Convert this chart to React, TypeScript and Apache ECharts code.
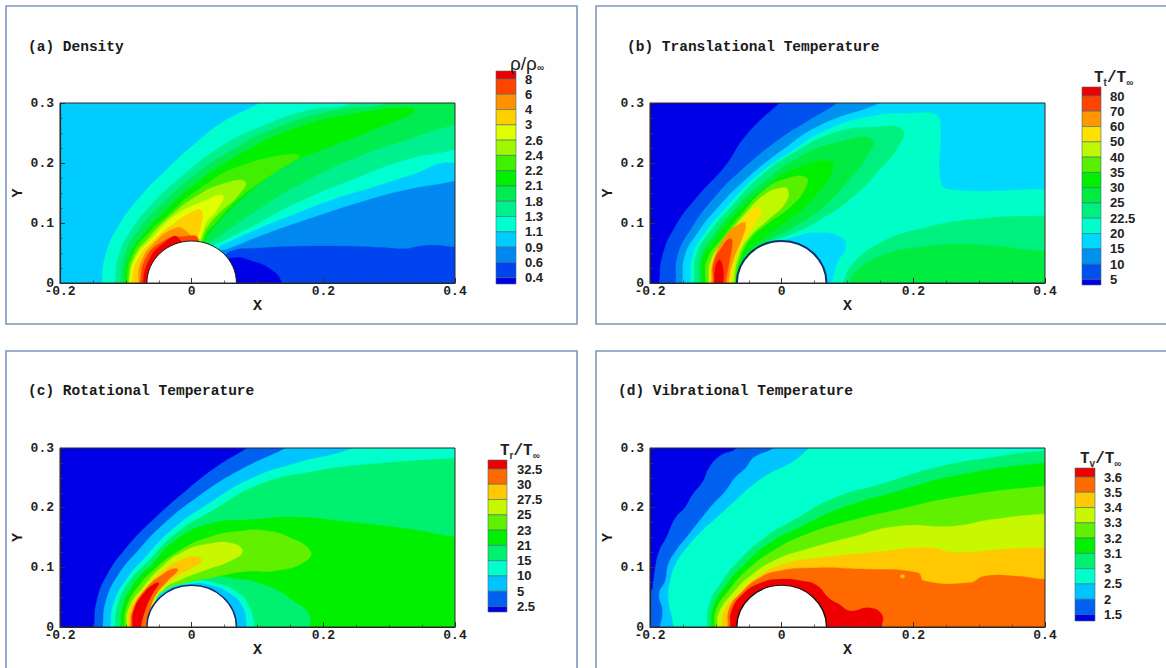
import React, { useEffect, useRef } from "react";
import * as echarts from "echarts";

const bodyRadius = [0.068, 0.07];

const densityLabels = ["8", "6", "4", "3", "2.6", "2.4", "2.2", "2.1", "1.8", "1.3", "1.1", "0.9", "0.6", "0.4"];
const translationalLabels = ["80", "70", "60", "50", "40", "35", "30", "25", "22.5", "20", "15", "10", "5"];
const rotationalLabels = ["32.5", "30", "27.5", "25", "23", "21", "15", "10", "5", "2.5"];
const vibrationalLabels = ["3.6", "3.5", "3.4", "3.3", "3.2", "3.1", "3", "2.5", "2", "1.5"];

// colours of the cells, from the lowest cell to the highest
const densityColors = ["#0000e6", "#0044f0", "#0088f0", "#00ccff", "#00ffd0", "#00f090", "#00ec50", "#00f000", "#40f000", "#a0f800", "#e0ff00", "#ffd000", "#ff9000", "#ff4400", "#ee0000"];
const translationalColors = ["#0000e6", "#0050f0", "#0090f0", "#00d8ff", "#00ffc8", "#00f080", "#00ec40", "#00f000", "#58f000", "#c0f800", "#ffe000", "#ff9800", "#ff4400", "#ee0000"];
const rotationalColors = ["#0000e6", "#0060f0", "#00c4ff", "#00ffcc", "#00f070", "#00f000", "#60f000", "#c8f800", "#ffc800", "#ff6a00", "#ee0000"];
const vibrationalColors = ["#0000e6", "#0060f0", "#00c4ff", "#00ffcc", "#00f070", "#00f000", "#60f000", "#c8f800", "#ffc800", "#ff6a00", "#ee0000"];

type Band = [number, number[][]];

const densityBands: Band[] = [
  [4, [[-0.136, -0.02], [-0.136, 0], [-0.131, 0.045], [-0.111, 0.095], [-0.077, 0.145], [-0.037, 0.19], [0.008, 0.235], [0.047, 0.268], [0.104, 0.3], [0.15, 0.33], [0.5, 0.33], [0.5, 0.17], [0.4, 0.201], [0.33, 0.179], [0.273, 0.159], [0.216, 0.14], [0.16, 0.117], [0.104, 0.092], [0.059, 0.07], [0.039, 0.057], [0, 0]]],
  [5, [[-0.116, -0.02], [-0.116, 0], [-0.111, 0.045], [-0.094, 0.084], [-0.065, 0.126], [-0.02, 0.173], [0.047, 0.229], [0.104, 0.26], [0.177, 0.288], [0.245, 0.3], [0.28, 0.33], [0.5, 0.33], [0.5, 0.26], [0.4, 0.223], [0.33, 0.207], [0.245, 0.173], [0.16, 0.134], [0.093, 0.095], [0.047, 0.07], [0.03, 0.059], [0, 0]]],
  [6, [[-0.108, -0.02], [-0.108, 0], [-0.1, 0.05], [-0.08, 0.089], [-0.049, 0.128], [-0.003, 0.173], [0.059, 0.22], [0.132, 0.26], [0.217, 0.288], [0.296, 0.3], [0.32, 0.33], [0.5, 0.33], [0.5, 0.3], [0.4, 0.265], [0.33, 0.24], [0.245, 0.207], [0.16, 0.162], [0.093, 0.117], [0.042, 0.078], [0.025, 0.064], [0, 0]]],
  [7, [[-0.102, -0.02], [-0.102, 0], [-0.094, 0.045], [-0.071, 0.084], [-0.043, 0.117], [0.002, 0.162], [0.07, 0.212], [0.149, 0.254], [0.245, 0.282], [0.338, 0.289], [0.273, 0.254], [0.2, 0.223], [0.143, 0.196], [0.076, 0.14], [0.036, 0.095], [0.022, 0.073], [0, 0]]],
  [8, [[-0.099, -0.02], [-0.099, 0], [-0.091, 0.045], [-0.065, 0.084], [-0.037, 0.112], [0.008, 0.154], [0.076, 0.196], [0.163, 0.213], [0.126, 0.184], [0.076, 0.145], [0.036, 0.1], [0.019, 0.075], [0, 0]]],
  [9, [[-0.096, -0.02], [-0.096, 0], [-0.088, 0.042], [-0.063, 0.078], [-0.032, 0.112], [0.008, 0.145], [0.047, 0.165], [0.081, 0.169], [0.07, 0.145], [0.042, 0.117], [0.025, 0.095], [0.016, 0.075], [0, 0]]],
  [10, [[-0.095, -0.02], [-0.095, 0], [-0.085, 0.042], [-0.06, 0.075], [-0.026, 0.112], [0.014, 0.134], [0.047, 0.146], [0.039, 0.123], [0.022, 0.1], [0.015, 0.078], [0.01, 0.07], [0, 0]]],
  [11, [[-0.091, -0.02], [-0.091, 0], [-0.082, 0.039], [-0.054, 0.075], [-0.026, 0.1], [0.002, 0.119], [0.015, 0.12], [0.014, 0.095], [0.008, 0.07], [0, 0]]],
  [12, [[-0.081, -0.02], [-0.081, 0], [-0.077, 0.034], [-0.054, 0.07], [-0.023, 0.092], [-0.012, 0.089], [0, 0.072], [0, 0]]],
  [13, [[-0.078, -0.02], [-0.078, 0], [-0.07, 0.04], [-0.046, 0.068], [-0.015, 0.077], [0.01, 0.073], [0, 0]]],
  [14, [[-0.074, -0.02], [-0.074, 0], [-0.066, 0.035], [-0.045, 0.064], [-0.02, 0.075], [0, 0]]],
  [2, [[0.4, 0.17], [0.33, 0.156], [0.273, 0.14], [0.16, 0.1], [0.104, 0.078], [0.053, 0.056], [0.03, 0.05], [0, 0], [0.03, -0.02], [0.5, -0.02], [0.5, 0.2]]],
  [1, [[0.06, 0.053], [0.1, 0.058], [0.16, 0.061], [0.245, 0.061], [0.29, 0.059], [0.324, 0.057], [0.345, 0.061], [0.369, 0.063], [0.4, 0.06], [0.5, 0.06], [0.5, -0.02], [0.05, -0.02], [0.05, 0.04]]],
  [0, [[0.064, 0.042], [0.093, 0.036], [0.121, 0.022], [0.137, 0], [0.137, -0.02], [0.05, -0.02], [0.05, 0.03]]],
];

const translationalBands: Band[] = [
  [1, [[-0.19, -0.02], [-0.186, 0], [-0.181, 0.045], [-0.161, 0.095], [-0.127, 0.145], [-0.085, 0.196], [-0.054, 0.246], [-0.003, 0.3], [0.03, 0.33], [0.5, 0.33], [0.5, -0.02]]],
  [2, [[-0.165, -0.02], [-0.161, 0], [-0.158, 0.045], [-0.138, 0.089], [-0.104, 0.14], [-0.059, 0.19], [-0.003, 0.24], [0.037, 0.268], [0.085, 0.3], [0.12, 0.33], [0.5, 0.33], [0.5, -0.02]]],
  [3, [[-0.155, -0.02], [-0.151, 0], [-0.147, 0.045], [-0.127, 0.084], [-0.099, 0.123], [-0.054, 0.173], [0.003, 0.223], [0.059, 0.263], [0.15, 0.3], [0.2, 0.33], [0.5, 0.33], [0.5, -0.02]]],
  [4, [[-0.142, -0.02], [-0.139, 0], [-0.135, 0.045], [-0.116, 0.084], [-0.082, 0.128], [-0.037, 0.179], [0.02, 0.223], [0.059, 0.25], [0.127, 0.276], [0.206, 0.283], [0.234, 0.28], [0.241, 0.263], [0.241, 0.172], [0.254, 0.156], [0.4, 0.156], [0.5, 0.156], [0.5, -0.02], [0.075, -0.02], [0.077, 0], [0.085, 0.034], [0.098, 0.059], [0.09, 0.077], [0.048, 0.084], [0.02, 0.077], [0, 0.072], [-0.03, 0.07], [-0.06, 0.045], [-0.071, 0]]],
  [5, [[-0.136, -0.02], [-0.133, 0], [-0.13, 0.045], [-0.11, 0.084], [-0.076, 0.128], [-0.031, 0.179], [0.02, 0.218], [0.082, 0.251], [0.144, 0.26], [0.183, 0.256], [0.178, 0.229], [0.15, 0.19], [0.11, 0.145], [0.059, 0.106], [0.02, 0.084], [-0.031, 0.061], [-0.054, 0.039], [-0.065, 0.017], [-0.069, 0], [-0.069, -0.02]]],
  [6, [[-0.126, -0.02], [-0.125, 0], [-0.122, 0.045], [-0.104, 0.078], [-0.071, 0.123], [-0.025, 0.17], [0.031, 0.212], [0.087, 0.235], [0.137, 0.24], [0.127, 0.207], [0.099, 0.168], [0.059, 0.123], [0.02, 0.095], [-0.025, 0.067], [-0.054, 0.042], [-0.066, 0.02], [-0.068, 0], [-0.068, -0.02]]],
  [7, [[-0.122, -0.02], [-0.121, 0], [-0.119, 0.042], [-0.099, 0.075], [-0.065, 0.12], [-0.025, 0.159], [0.02, 0.19], [0.076, 0.202], [0.073, 0.178], [0.059, 0.156], [0.031, 0.123], [-0.003, 0.095], [-0.037, 0.067], [-0.059, 0.039], [-0.069, 0], [-0.069, -0.02]]],
  [8, [[-0.117, -0.02], [-0.116, 0], [-0.113, 0.039], [-0.09, 0.075], [-0.059, 0.117], [-0.025, 0.156], [0.008, 0.174], [0.037, 0.176], [0.036, 0.158], [0.014, 0.128], [-0.02, 0.1], [-0.048, 0.073], [-0.063, 0.04], [-0.071, 0], [-0.071, -0.02]]],
  [9, [[-0.112, -0.02], [-0.111, 0], [-0.107, 0.039], [-0.085, 0.075], [-0.054, 0.117], [-0.025, 0.148], [-0.003, 0.158], [0.009, 0.156], [0.006, 0.134], [-0.02, 0.106], [-0.048, 0.078], [-0.065, 0.045], [-0.073, 0], [-0.073, -0.02]]],
  [10, [[-0.11, -0.02], [-0.109, 0], [-0.104, 0.039], [-0.082, 0.073], [-0.054, 0.112], [-0.037, 0.126], [-0.031, 0.12], [-0.037, 0.106], [-0.054, 0.075], [-0.069, 0.045], [-0.076, 0], [-0.076, -0.02]]],
  [11, [[-0.108, -0.02], [-0.107, 0], [-0.104, 0.036], [-0.085, 0.078], [-0.062, 0.1], [-0.055, 0.099], [-0.059, 0.078], [-0.073, 0.039], [-0.081, 0], [-0.081, -0.02]]],
  [12, [[-0.105, -0.02], [-0.104, 0], [-0.103, 0.034], [-0.09, 0.061], [-0.079, 0.074], [-0.075, 0.07], [-0.079, 0.039], [-0.085, 0], [-0.085, -0.02]]],
  [13, [[-0.102, -0.02], [-0.102, 0], [-0.1, 0.028], [-0.094, 0.038], [-0.089, 0.022], [-0.089, 0], [-0.089, -0.02]]],
  [5, [[0.09, -0.02], [0.093, 0], [0.11, 0.034], [0.15, 0.067], [0.206, 0.089], [0.29, 0.106], [0.4, 0.112], [0.5, 0.112], [0.5, -0.02]]],
  [6, [[0.1, -0.02], [0.102, 0], [0.116, 0.022], [0.15, 0.045], [0.206, 0.059], [0.29, 0.064], [0.4, 0.053], [0.5, 0.05], [0.5, -0.02]]],
];

const rotationalBands: Band[] = [
  [1, [[-0.15, -0.02], [-0.148, 0], [-0.144, 0.044], [-0.128, 0.088], [-0.099, 0.133], [-0.06, 0.178], [-0.009, 0.228], [0.036, 0.267], [0.084, 0.3], [0.12, 0.33], [0.5, 0.33], [0.5, -0.02]]],
  [2, [[-0.137, -0.02], [-0.135, 0], [-0.13, 0.044], [-0.111, 0.088], [-0.082, 0.127], [-0.043, 0.172], [0.008, 0.217], [0.07, 0.261], [0.143, 0.3], [0.19, 0.33], [0.5, 0.33], [0.5, -0.02]]],
  [3, [[-0.125, -0.02], [-0.123, 0], [-0.119, 0.038], [-0.099, 0.08], [-0.071, 0.116], [-0.032, 0.161], [0.025, 0.206], [0.093, 0.25], [0.16, 0.275], [0.245, 0.3], [0.29, 0.33], [0.5, 0.33], [0.5, -0.02], [0.084, -0.02], [0.084, 0], [0.077, 0.035], [0.056, 0.058], [0.03, 0.07], [0.002, 0.073], [-0.037, 0.062], [-0.06, 0.035], [-0.07, 0], [-0.07, -0.02]]],
  [4, [[-0.117, -0.02], [-0.116, 0], [-0.112, 0.038], [-0.094, 0.077], [-0.065, 0.111], [-0.026, 0.155], [0.03, 0.194], [0.104, 0.239], [0.188, 0.261], [0.273, 0.273], [0.4, 0.283], [0.5, 0.29], [0.5, -0.02], [0.096, -0.02], [0.096, 0], [0.086, 0.038], [0.068, 0.06], [0.04, 0.073], [0.002, 0.078], [-0.037, 0.066], [-0.06, 0.038], [-0.068, 0], [-0.068, -0.02]]],
  [5, [[-0.109, -0.02], [-0.108, 0], [-0.105, 0.032], [-0.088, 0.072], [-0.06, 0.105], [-0.026, 0.144], [0.025, 0.172], [0.093, 0.18], [0.16, 0.184], [0.245, 0.175], [0.33, 0.164], [0.4, 0.151], [0.5, 0.14], [0.5, -0.02], [0.18, -0.02], [0.18, 0.018], [0.155, 0.044], [0.115, 0.069], [0.059, 0.083], [0.019, 0.085], [-0.02, 0.077], [-0.049, 0.058], [-0.063, 0.032], [-0.069, 0], [-0.069, -0.02]]],
  [6, [[-0.103, -0.02], [-0.102, 0], [-0.099, 0.032], [-0.08, 0.069], [-0.054, 0.099], [-0.02, 0.127], [0.025, 0.15], [0.076, 0.161], [0.115, 0.161], [0.149, 0.15], [0.18, 0.128], [0.174, 0.111], [0.132, 0.095], [0.081, 0.093], [0.036, 0.084], [-0.009, 0.074], [-0.043, 0.06], [-0.06, 0.035], [-0.068, 0], [-0.068, -0.02]]],
  [7, [[-0.1, -0.02], [-0.099, 0], [-0.095, 0.032], [-0.074, 0.066], [-0.049, 0.097], [-0.015, 0.125], [0.025, 0.139], [0.062, 0.14], [0.077, 0.127], [0.059, 0.111], [0.025, 0.097], [-0.015, 0.08], [-0.043, 0.063], [-0.059, 0.035], [-0.067, 0], [-0.067, -0.02]]],
  [8, [[-0.097, -0.02], [-0.096, 0], [-0.093, 0.03], [-0.071, 0.063], [-0.043, 0.094], [-0.015, 0.113], [0.005, 0.118], [0.015, 0.111], [-0.003, 0.097], [-0.026, 0.083], [-0.051, 0.058], [-0.063, 0.03], [-0.068, 0], [-0.068, -0.02]]],
  [9, [[-0.094, -0.02], [-0.093, 0], [-0.089, 0.03], [-0.068, 0.066], [-0.043, 0.089], [-0.026, 0.098], [-0.021, 0.095], [-0.037, 0.077], [-0.057, 0.049], [-0.065, 0.021], [-0.07, 0], [-0.07, -0.02]]],
  [10, [[-0.091, -0.02], [-0.09, 0], [-0.088, 0.027], [-0.074, 0.055], [-0.057, 0.072], [-0.05, 0.073], [-0.06, 0.055], [-0.071, 0.027], [-0.077, 0], [-0.077, -0.02]]],
];

const vibrationalBands: Band[] = [
  [1, [[-0.05, 0.33], [-0.068, 0.3], [-0.093, 0.287], [-0.11, 0.267], [-0.119, 0.245], [-0.135, 0.222], [-0.147, 0.2], [-0.161, 0.183], [-0.175, 0.15], [-0.186, 0.127], [-0.192, 0.099], [-0.195, 0.074], [-0.199, 0.06], [-0.22, 0.05], [-0.22, -0.02], [0.5, -0.02], [0.5, 0.33]]],
  [2, [[0.02, 0.33], [-0.012, 0.3], [-0.042, 0.284], [-0.054, 0.267], [-0.071, 0.25], [-0.085, 0.228], [-0.104, 0.206], [-0.121, 0.183], [-0.141, 0.155], [-0.161, 0.127], [-0.172, 0.105], [-0.177, 0.077], [-0.186, 0.055], [-0.181, 0.027], [-0.185, 0], [-0.19, -0.02], [0.5, -0.02], [0.5, 0.33]]],
  [3, [[0.07, 0.33], [0.042, 0.3], [0.014, 0.275], [-0.02, 0.256], [-0.048, 0.234], [-0.076, 0.206], [-0.099, 0.183], [-0.121, 0.161], [-0.144, 0.133], [-0.161, 0.105], [-0.169, 0.077], [-0.172, 0.049], [-0.164, 0], [-0.164, -0.02], [0.5, -0.02], [0.5, 0.33]]],
  [4, [[-0.115, -0.02], [-0.113, 0], [-0.11, 0.038], [-0.093, 0.072], [-0.065, 0.111], [-0.025, 0.15], [0.02, 0.18], [0.082, 0.217], [0.15, 0.239], [0.234, 0.267], [0.319, 0.284], [0.4, 0.295], [0.5, 0.3], [0.5, -0.02]]],
  [5, [[-0.108, -0.02], [-0.107, 0], [-0.104, 0.032], [-0.085, 0.069], [-0.059, 0.102], [-0.02, 0.139], [0.031, 0.169], [0.093, 0.2], [0.178, 0.228], [0.262, 0.253], [0.4, 0.275], [0.5, 0.28], [0.5, -0.02]]],
  [6, [[-0.103, -0.02], [-0.102, 0], [-0.099, 0.03], [-0.079, 0.063], [-0.054, 0.094], [-0.014, 0.127], [0.037, 0.155], [0.104, 0.178], [0.178, 0.197], [0.262, 0.217], [0.4, 0.236], [0.5, 0.24], [0.5, -0.02]]],
  [7, [[-0.099, -0.02], [-0.098, 0], [-0.094, 0.027], [-0.073, 0.058], [-0.048, 0.085], [-0.008, 0.113], [0.037, 0.13], [0.104, 0.15], [0.178, 0.169], [0.262, 0.169], [0.319, 0.18], [0.4, 0.189], [0.5, 0.19], [0.5, -0.02]]],
  [8, [[-0.091, -0.02], [-0.09, 0], [-0.087, 0.027], [-0.065, 0.055], [-0.037, 0.083], [0.003, 0.105], [0.059, 0.116], [0.138, 0.125], [0.223, 0.133], [0.262, 0.125], [0.336, 0.13], [0.4, 0.133], [0.5, 0.133], [0.5, -0.02]]],
  [9, [[-0.083, -0.02], [-0.082, 0], [-0.079, 0.032], [-0.059, 0.06], [-0.037, 0.08], [-0.008, 0.093], [0.048, 0.099], [0.121, 0.097], [0.206, 0.091], [0.217, 0.077], [0.285, 0.074], [0.308, 0.085], [0.358, 0.085], [0.4, 0.08], [0.5, 0.08], [0.5, -0.02]]],
  [10, [[-0.079, -0.02], [-0.078, 0], [-0.076, 0.027], [-0.059, 0.055], [-0.031, 0.074], [-0.003, 0.08], [0.031, 0.077], [0.054, 0.069], [0.071, 0.049], [0.087, 0.038], [0.104, 0.027], [0.133, 0.032], [0.152, 0.021], [0.152, 0], [0.152, -0.02]]],
  [8, [[0.181, 0.087], [0.186, 0.087], [0.186, 0.083], [0.181, 0.083]]],
];

const AXIS_FONT = "'Liberation Mono', monospace";
const LABEL_FONT = "'Liberation Sans', Arial, sans-serif";
const FRAME_COLOR = "#7f96ba";

const panels = [
  { title: "(a) Density", titleX: 28, titleY: 47, frame: [6, 6, 571, 318], grid: [60, 103, 395, 180], bar: [496, 71, 20, 213], labelX: 525, labelY: 79, labels: densityLabels, colors: densityColors, bands: densityBands, rim: "#1a1a1a", rimW: 1, head: "{n|ρ/ρ}{s|∞}", headX: 510, headY: 63 },
  { title: "(b) Translational Temperature", titleX: 627, titleY: 47, frame: [596, 6, 600, 318], grid: [650, 103, 395, 180], bar: [1082, 87, 19, 198], labelX: 1110, labelY: 96, labels: translationalLabels, colors: translationalColors, bands: translationalBands, rim: "#10306a", rimW: 2, head: "{m|T}{s|t}{m|/T}{s|∞}", headX: 1094, headY: 78 },
  { title: "(c) Rotational Temperature", titleX: 28, titleY: 391, frame: [6, 351, 571, 340], grid: [60, 448, 395, 179], bar: [488, 460, 19, 152], labelX: 517, labelY: 469, labels: rotationalLabels, colors: rotationalColors, bands: rotationalBands, rim: "#10306a", rimW: 1.5, head: "{m|T}{s|r}{m|/T}{s|∞}", headX: 500, headY: 451 },
  { title: "(d) Vibrational Temperature", titleX: 618, titleY: 391, frame: [596, 351, 600, 340], grid: [650, 448, 395, 179], bar: [1075, 468, 20, 153], labelX: 1104, labelY: 477, labels: vibrationalLabels, colors: vibrationalColors, bands: vibrationalBands, rim: "#111111", rimW: 1.2, head: "{m|T}{s|v}{m|/T}{s|∞}", headX: 1080, headY: 459 },
];

const LABEL_STEP = 15.28;

function axisCommon() {
  return {
    z: 6,
    axisLine: { show: true, onZero: false, lineStyle: { color: "#222", width: 1.2 } },
    axisTick: { show: true, inside: true, length: 5, lineStyle: { color: "#333", width: 1 } },
    minorTick: { show: true, splitNumber: 4, length: 2.5, lineStyle: { color: "#444", width: 0.8 } },
    splitLine: { show: false },
    nameTextStyle: { fontFamily: AXIS_FONT, fontWeight: "bold", fontSize: 15, color: "#1a1a1a" },
    axisLabel: {
      fontFamily: AXIS_FONT,
      fontWeight: "bold",
      fontSize: 13,
      lineHeight: 9,
      color: "#1f1f1f",
      formatter: (v: number) => (Math.abs(v) < 1e-9 ? "0" : String(Math.round(v * 10) / 10)),
    },
  };
}

function buildOption() {
  const grid: any[] = [];
  const xAxis: any[] = [];
  const yAxis: any[] = [];
  const series: any[] = [];
  const graphic: any[] = [];

  panels.forEach((p, idx) => {
    const [gx, gy, gw, gh] = p.grid;
    grid.push({ left: gx, top: gy, width: gw, height: gh, containLabel: false });
    xAxis.push({
      ...axisCommon(),
      gridIndex: idx,
      type: "value",
      min: -0.2,
      max: 0.4,
      interval: 0.2,
      name: "X",
      nameLocation: "middle",
      nameGap: 14,
      axisLabel: { ...axisCommon().axisLabel, margin: 4 },
    });
    yAxis.push({
      ...axisCommon(),
      gridIndex: idx,
      type: "value",
      min: 0,
      max: 0.3,
      interval: 0.1,
      name: "Y",
      nameLocation: "middle",
      nameGap: 34,
      nameRotate: 90,
      axisLabel: { ...axisCommon().axisLabel, margin: 6 },
    });

    const bands = p.bands;
    const colors = p.colors;
    series.push({
      type: "custom",
      name: p.title,
      xAxisIndex: idx,
      yAxisIndex: idx,
      clip: true,
      silent: true,
      z: 2,
      data: bands.map((b) => b[1][0]),
      renderItem: (params: any, api: any) => {
        const b = bands[params.dataIndex];
        return {
          type: "polygon",
          shape: { points: b[1].map((pt) => api.coord(pt)), smooth: 0.5 },
          style: { fill: colors[b[0]], stroke: colors[b[0]], lineWidth: 0.4 },
        };
      },
    });
    series.push({
      type: "custom",
      name: p.title + " body",
      xAxisIndex: idx,
      yAxisIndex: idx,
      clip: true,
      silent: true,
      z: 3,
      data: [[0, 0]],
      renderItem: (_: any, api: any) => {
        const c = api.coord([0, 0]);
        const s = api.size(bodyRadius);
        return {
          type: "ellipse",
          shape: { cx: c[0], cy: c[1], rx: s[0], ry: s[1] },
          style: { fill: "#ffffff", stroke: p.rim, lineWidth: p.rimW },
        };
      },
    });

    graphic.push({
      type: "rect",
      z: 0,
      shape: { x: p.frame[0], y: p.frame[1], width: p.frame[2], height: p.frame[3] },
      style: { fill: "#fefefe", stroke: FRAME_COLOR, lineWidth: 1.6 },
    });
    graphic.push({
      type: "rect",
      z: 0,
      shape: { x: gx, y: gy, width: gw, height: gh },
      style: { fill: colors[p === panels[0] ? 3 : 0] },
    });
    graphic.push({
      type: "rect",
      z: 50,
      shape: { x: gx, y: gy, width: gw, height: gh },
      style: { fill: "none", stroke: "#2a2a2a", lineWidth: 1 },
    });
    graphic.push({
      type: "text",
      z: 50,
      x: p.titleX,
      y: p.titleY,
      style: { text: p.title, fontFamily: AXIS_FONT, fontWeight: "bold", fontSize: 14.5, fill: "#1a1a1a", verticalAlign: "middle", align: "left" },
    });

    const [bx, by, bw, bh] = p.bar;
    const n = p.labels.length;
    const edges = [by, ...p.labels.map((_, i) => p.labelY + i * LABEL_STEP), by + bh];
    for (let i = 0; i <= n; i++) {
      graphic.push({
        type: "rect",
        z: 50,
        shape: { x: bx, y: edges[i], width: bw, height: edges[i + 1] - edges[i] },
        style: { fill: colors[n - i], stroke: "#3f6f7a", lineWidth: 0.6 },
      });
    }
    p.labels.forEach((t, i) => {
      graphic.push({
        type: "text",
        z: 50,
        x: p.labelX,
        y: p.labelY + i * LABEL_STEP,
        style: { text: t, fontFamily: LABEL_FONT, fontWeight: "bold", fontSize: 13, fill: "#222", verticalAlign: "middle", align: "left" },
      });
    });
    graphic.push({
      type: "text",
      z: 50,
      x: p.headX,
      y: p.headY,
      style: {
        text: p.head,
        verticalAlign: "middle",
        align: "left",
        rich: {
          n: { fontFamily: LABEL_FONT, fontSize: 19, fill: "#222" },
          m: { fontFamily: AXIS_FONT, fontWeight: "bold", fontSize: 16, fill: "#222" },
          s: { fontFamily: LABEL_FONT, fontWeight: "bold", fontSize: 10, fill: "#333", padding: [8, 0, 0, 0] },
        },
      },
    });
  });

  return { animation: false, backgroundColor: "#ffffff", grid, xAxis, yAxis, series, graphic };
}

export default function App() {
  const ref = useRef<HTMLDivElement>(null);
  useEffect(() => {
    document.body.style.margin = "0";
    const chart = echarts.init(ref.current!, undefined, { renderer: "svg" });
    chart.setOption(buildOption() as any);
    return () => chart.dispose();
  }, []);
  return <div ref={ref} style={{ width: 1166, height: 668, overflow: "hidden" }} />;
}
